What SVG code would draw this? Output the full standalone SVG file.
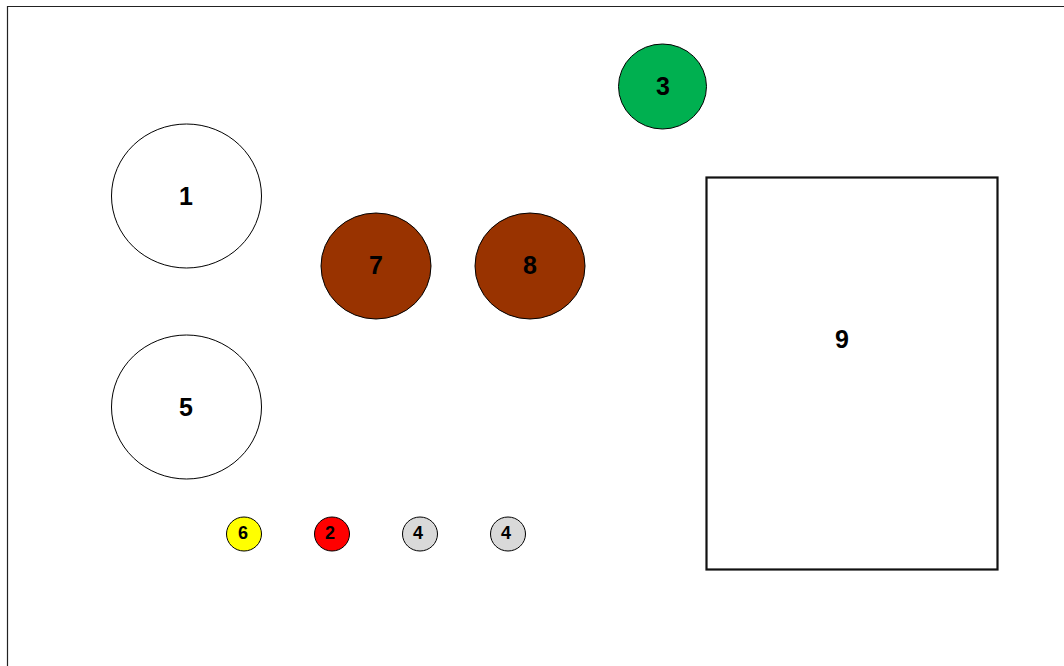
<svg xmlns="http://www.w3.org/2000/svg" width="1064" height="666" viewBox="0 0 1064 666">
<style>
.n{stroke:#000;stroke-width:1}
.t{font-family:"Liberation Sans",Arial,sans-serif;font-weight:bold;fill:#000;text-anchor:middle;dominant-baseline:central}
.big{font-size:25px}
.sm{font-size:18px}
</style>
<rect x="0" y="0" width="1064" height="666" fill="#fff"/>
<path d="M7.5,670 V6.5 H1070" fill="none" stroke="#222" stroke-width="1.2"/>
<g id="connectors"></g>
<g id="n1"><ellipse class="n" cx="186.5" cy="196" rx="75" ry="72" fill="#fff"/><text class="t big" x="186" y="196">1</text></g>
<g id="n5"><ellipse class="n" cx="186.5" cy="407" rx="75" ry="72" fill="#fff"/><text class="t big" x="186" y="407">5</text></g>
<g id="n7"><ellipse class="n" cx="376" cy="266" rx="55" ry="53" fill="#993300"/><text class="t big" x="376" y="265">7</text></g>
<g id="n8"><ellipse class="n" cx="530" cy="266" rx="55" ry="53" fill="#993300"/><text class="t big" x="530" y="265">8</text></g>
<g id="n3"><ellipse class="n" cx="662.5" cy="86.5" rx="44" ry="42.5" fill="#00b050"/><text class="t big" x="663" y="86">3</text></g>
<g id="n9"><rect x="706.5" y="177.5" width="291" height="392" fill="#fff" stroke="#111" stroke-width="2.2"/><text class="t big" x="842" y="339">9</text></g>
<g id="n6"><ellipse class="n" cx="244" cy="534" rx="17.5" ry="17" fill="#ffff00"/><text class="t sm" x="243" y="533">6</text></g>
<g id="n2"><ellipse class="n" cx="332" cy="534" rx="17.5" ry="17" fill="#ff0000"/><text class="t sm" x="330" y="533">2</text></g>
<g id="n4a"><ellipse class="n" cx="420" cy="534" rx="17.5" ry="17" fill="#d9d9d9"/><text class="t sm" x="418" y="533">4</text></g>
<g id="n4b"><ellipse class="n" cx="508" cy="534" rx="17.5" ry="17" fill="#d9d9d9"/><text class="t sm" x="506" y="533">4</text></g>
</svg>
